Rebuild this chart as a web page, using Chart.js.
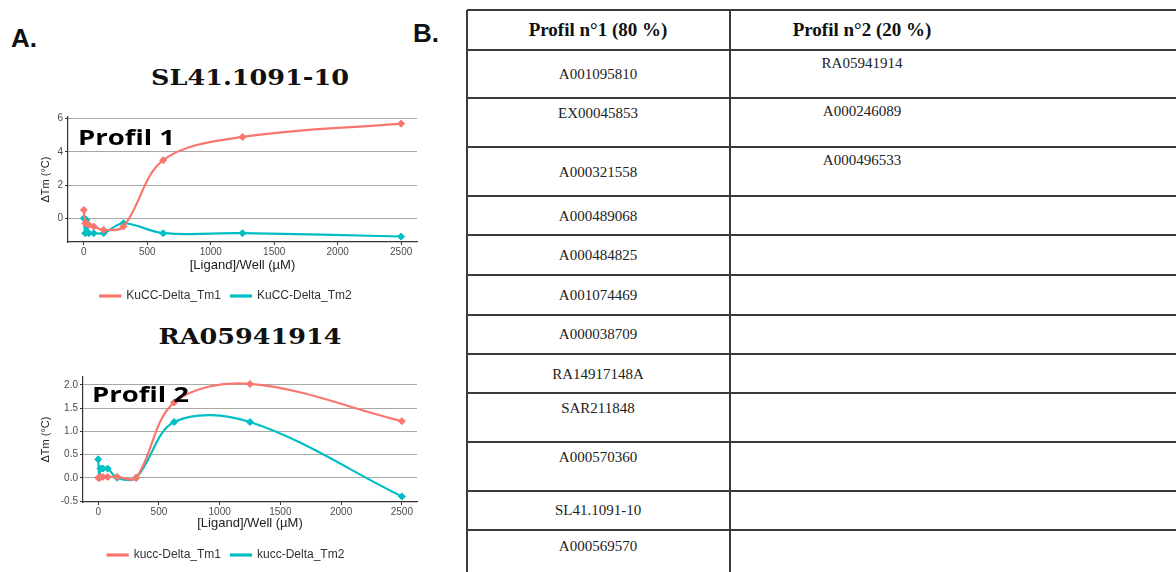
<!DOCTYPE html>
<html>
<head>
<meta charset="utf-8">
<script src="https://cdn.jsdelivr.net/npm/chart.js@4.4.1/dist/chart.umd.min.js"></script>
<style>
  body { margin: 0; background: #fff; }
  #page { position: relative; width: 1176px; height: 572px; overflow: hidden; font-family: "Liberation Sans", Arial, sans-serif; }
  .abs { position: absolute; white-space: nowrap; }
  .panel { font-weight: bold; font-size: 26px; color: #111; transform: translateY(-50%); }
  .title { font-family: "DejaVu Serif", serif; font-weight: bold; font-size: 22px; color: #111;
           transform: translate(-50%, -50%) scaleX(1.16); }
  .profil { font-family: "Open Sans", sans-serif; font-weight: bold; font-size: 22px; color: #000;
            transform-origin: left center; transform: translateY(-50%) scaleX(1.25); }
  .hline { position: absolute; height: 2px; background: #3a3a3a; }
  .vline { position: absolute; width: 2px; background: #3a3a3a; }
  .cell { font-family: "Liberation Serif", "Times New Roman", serif; font-size: 15px; color: #222;
          transform: translate(-50%, -50%); }
  .head { font-family: "Liberation Serif", "Times New Roman", serif; font-weight: bold; font-size: 19px; color: #111;
          transform: translate(-50%, -50%); }
  canvas { position: absolute; }
</style>
</head>
<body>
<div id="page">
  <div class="abs panel" style="left:11px; top:38px;">A.</div>
  <div class="abs panel" style="left:413px; top:33px;">B.</div>
  <div class="abs title" style="left:250px; top:77px;">SL41.1091-10</div>
  <div class="abs title" style="left:250px; top:336px;">RA05941914</div>

  <canvas id="chart1" width="425" height="204" style="left:0; top:108px;"></canvas>
  <canvas id="chart2" width="425" height="203" style="left:0; top:368px;"></canvas>

  <div class="abs profil" style="left:78px; top:136px;">Profil 1</div>
  <div class="abs profil" style="left:92px; top:393px;">Profil 2</div>

  <div id="table"></div>
</div>

<script>
// dilution series (µM per well)
const doses = [0, 10, 20, 39, 78, 156, 312, 625, 1250, 2500];

// SL41.1091-10
const sl41Tm1 = [0.5, -0.3, -0.3, -0.4, -0.5, -0.7, -0.5, 3.5, 4.9, 5.7];
const sl41Tm2 = [0, -0.9, -0.1, -0.9, -0.9, -0.9, -0.3, -0.9, -0.9, -1.1];

// RA05941914
const ra05Tm1 = [0, 0, 0.02, 0.02, 0.02, 0.02, 0, 1.62, 2.02, 1.22];
const ra05Tm2 = [0.4, 0, 0.2, 0.2, 0.2, 0, 0, 1.2, 1.2, -0.4];

const xTicks = [0, 500, 1000, 1500, 2000, 2500];
const yTicks1 = [0, 2, 4, 6];
const yTicks2 = [-0.5, 0, 0.5, 1, 1.5, 2];

const legend1 = ['KuCC-Delta_Tm1', 'KuCC-Delta_Tm2'];
const legend2 = ['kucc-Delta_Tm1', 'kucc-Delta_Tm2'];

// table B
const headers = ['Profil n°1 (80 %)', 'Profil n°2 (20 %)'];
const profil1 = ['A001095810', 'EX00045853', 'A000321558', 'A000489068', 'A000484825', 'A001074469',
                 'A000038709', 'RA14917148A', 'SAR211848', 'A000570360', 'SL41.1091-10', 'A000569570'];
const profil2 = ['RA05941914', 'A000246089', 'A000496533'];

const red = '#F8766D';
const cyan = '#00BFC4';

function toPoints(ys) {
    return doses.map((d, i) => ({x: d, y: ys[i]}));
}

function series(label, ys, color) {
    return {
        label: label,
        data: toPoints(ys),
        borderColor: color,
        backgroundColor: color,
        borderWidth: 2.2,
        pointStyle: 'rectRot',
        pointRadius: 3.5,
        pointBorderWidth: 1,
        tension: 0.35
    };
}

function makeChart(id, t1, t2, labels, yMin, yMax, yTicks, yWidth, xHeight, titlePad, decimals) {
    return new Chart(document.getElementById(id), {
        type: 'line',
        data: {
            datasets: [series(labels[0], t1, red), series(labels[1], t2, cyan)]
        },
        options: {
            responsive: false,
            animation: false,
            layout: {padding: {left: 35, right: 8, top: 9, bottom: 0}},
            plugins: {
                legend: {
                    position: 'bottom',
                    labels: {
                        boxWidth: 20,
                        boxHeight: 1,
                        padding: 10,
                        color: '#333',
                        font: {family: 'Liberation Sans', size: 12}
                    }
                },
                tooltip: {enabled: false}
            },
            scales: {
                x: {
                    type: 'linear',
                    min: -125,
                    max: 2625,
                    afterBuildTicks: s => { s.ticks = xTicks.map(v => ({value: v})); },
                    afterFit: s => { s.height = xHeight; },
                    grid: {color: 'rgba(0,0,0,0)', tickColor: '#333', tickLength: 3},
                    border: {display: true, color: '#333', width: 1.2},
                    ticks: {color: '#4d4d4d', padding: 1, maxRotation: 0, font: {family: 'Liberation Sans', size: 10},
                            callback: v => String(v)},
                    // for a bottom axis the title sits padding.bottom above the scale's lower edge
                    title: {display: true, text: '[Ligand]/Well (µM)', color: '#222', padding: {top: 0, bottom: titlePad},
                            font: {family: 'Liberation Sans', size: 13}}
                },
                y: {
                    min: yMin,
                    max: yMax,
                    afterBuildTicks: s => { s.ticks = yTicks.map(v => ({value: v})); },
                    afterFit: s => { s.width = yWidth; },
                    grid: {color: '#a8a8a8', lineWidth: 1, tickColor: '#333', tickLength: 3},
                    border: {display: true, color: '#333', width: 1.2},
                    ticks: {color: '#4d4d4d', padding: 2, font: {family: 'Liberation Sans', size: 10},
                            callback: v => v.toFixed(decimals)},
                    title: {display: true, text: 'ΔTm (°C)', color: '#222', padding: {top: 4, bottom: 0},
                            font: {family: 'Liberation Sans', size: 11}}
                }
            }
        }
    });
}

let chart1 = makeChart('chart1', sl41Tm1, sl41Tm2, legend1, -1.43, 6.1, yTicks1, 33, 38, 7, 0);
let chart2 = makeChart('chart2', ra05Tm1, ra05Tm2, legend2, -0.52, 2.17, yTicks2, 48, 37, 8, 1);

// table layout (pixels)
const tableLeft = 467, colSplit = 730, tableRight = 1176;
const rowLines = [10, 50, 98, 147, 196, 235, 275, 315, 354, 393, 442, 491, 530];
const headerY = 30;
const col1X = 598, col2X = 862;
const col1Y = [74, 113, 172, 216, 255, 295, 334, 374, 408, 457, 510, 546];
const col2Y = [63, 111, 160];

function buildTable() {
    const page = document.getElementById('page');
    const add = (cls, style, text) => {
        const el = document.createElement('div');
        el.className = cls;
        el.setAttribute('style', style);
        if (text) el.textContent = text;
        page.appendChild(el);
    };
    rowLines.forEach(y => add('hline', `left:${tableLeft}px; width:${tableRight - tableLeft}px; top:${y - 1}px;`));
    add('vline', `left:${tableLeft - 1}px; top:${rowLines[0]}px; height:${572 - rowLines[0]}px;`);
    add('vline', `left:${colSplit - 1}px; top:${rowLines[0]}px; height:${572 - rowLines[0]}px;`);
    add('abs head', `left:${col1X}px; top:${headerY}px;`, headers[0]);
    add('abs head', `left:${col2X}px; top:${headerY}px;`, headers[1]);
    profil1.forEach((t, i) => add('abs cell', `left:${col1X}px; top:${col1Y[i]}px;`, t));
    profil2.forEach((t, i) => add('abs cell', `left:${col2X}px; top:${col2Y[i]}px;`, t));
}

buildTable();
</script>
</body>
</html>
